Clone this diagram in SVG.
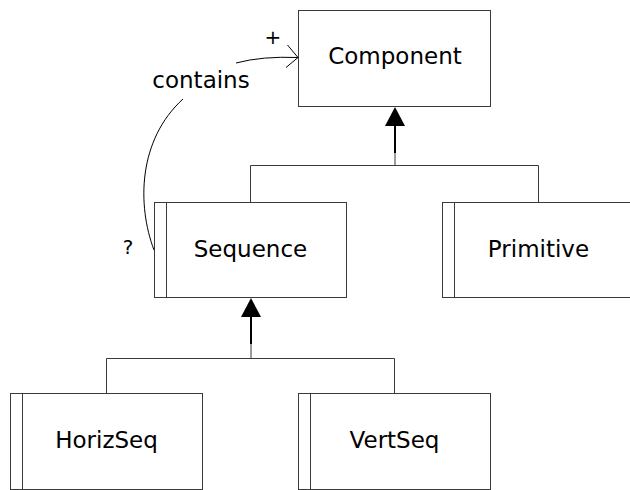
<svg xmlns="http://www.w3.org/2000/svg" width="630" height="490" viewBox="0 0 630 490">
  <style>
    .box { fill: #fff; stroke: #3a3a3a; stroke-width: 1; }
    .bar { stroke: #3a3a3a; stroke-width: 1; }
    .label { font-family: "DejaVu Sans", sans-serif; font-size: 23px; fill: #000; text-anchor: middle; }
    .small { font-family: "DejaVu Sans", sans-serif; font-size: 20px; fill: #000; text-anchor: middle; }
    .line { fill: none; stroke: #3a3a3a; stroke-width: 1; }
    .curve { fill: none; stroke: #000; stroke-width: 1; }
    .head { fill: #000; stroke: none; }
  </style>

  <g id="connectors">
    <!-- Component <- Sequence / Primitive generalisation -->
    <path class="line" d="M395,126 V165.5 M250.5,165.5 H538.5 M250.5,165.5 V202.5 M538.5,165.5 V202.5"/>
    <path d="M395,126 V153" stroke="#000" stroke-width="2"/>
    <polygon class="head" points="395,107 385,126 405,126"/>
    <!-- Sequence <- HorizSeq / VertSeq generalisation -->
    <path class="line" d="M251,317 V358.5 M106.5,358.5 H394.5 M106.5,358.5 V393.5 M394.5,358.5 V393.5"/>
    <path d="M251,317 V344" stroke="#000" stroke-width="2"/>
    <polygon class="head" points="251,298 241,317 261,317"/>
    <!-- contains association, Sequence -> Component -->
    <path class="curve" d="M154,250 C137,205 138,140 183,99"/>
    <path class="curve" d="M236,63 Q262,56 298,57.5"/>
    <path class="curve" d="M287.5,45 L298,57.5 L286,67.5"/>
    <text class="label" x="201" y="88">contains</text>
    <text class="small" x="273" y="44">+</text>
    <text class="small" x="128" y="254" font-size="21">?</text>
  </g>

  <g id="component">
    <rect class="box" x="298.5" y="10.5" width="192" height="96"/>
    <text class="label" x="395" y="64">Component</text>
  </g>

  <g id="sequence">
    <rect class="box" x="154.5" y="202.5" width="192" height="95"/>
    <line class="bar" x1="166.5" y1="202.5" x2="166.5" y2="297.5"/>
    <text class="label" x="250.5" y="257">Sequence</text>
  </g>

  <g id="primitive">
    <rect class="box" x="442.5" y="202.5" width="192" height="95"/>
    <line class="bar" x1="454.5" y1="202.5" x2="454.5" y2="297.5"/>
    <text class="label" x="538.5" y="257">Primitive</text>
  </g>

  <g id="horizseq">
    <rect class="box" x="10.5" y="393.5" width="192" height="96"/>
    <line class="bar" x1="22.5" y1="393.5" x2="22.5" y2="489.5"/>
    <text class="label" x="106.5" y="448">HorizSeq</text>
  </g>

  <g id="vertseq">
    <rect class="box" x="298.5" y="393.5" width="192" height="96"/>
    <line class="bar" x1="310.5" y1="393.5" x2="310.5" y2="489.5"/>
    <text class="label" x="394.5" y="448">VertSeq</text>
  </g>
</svg>
